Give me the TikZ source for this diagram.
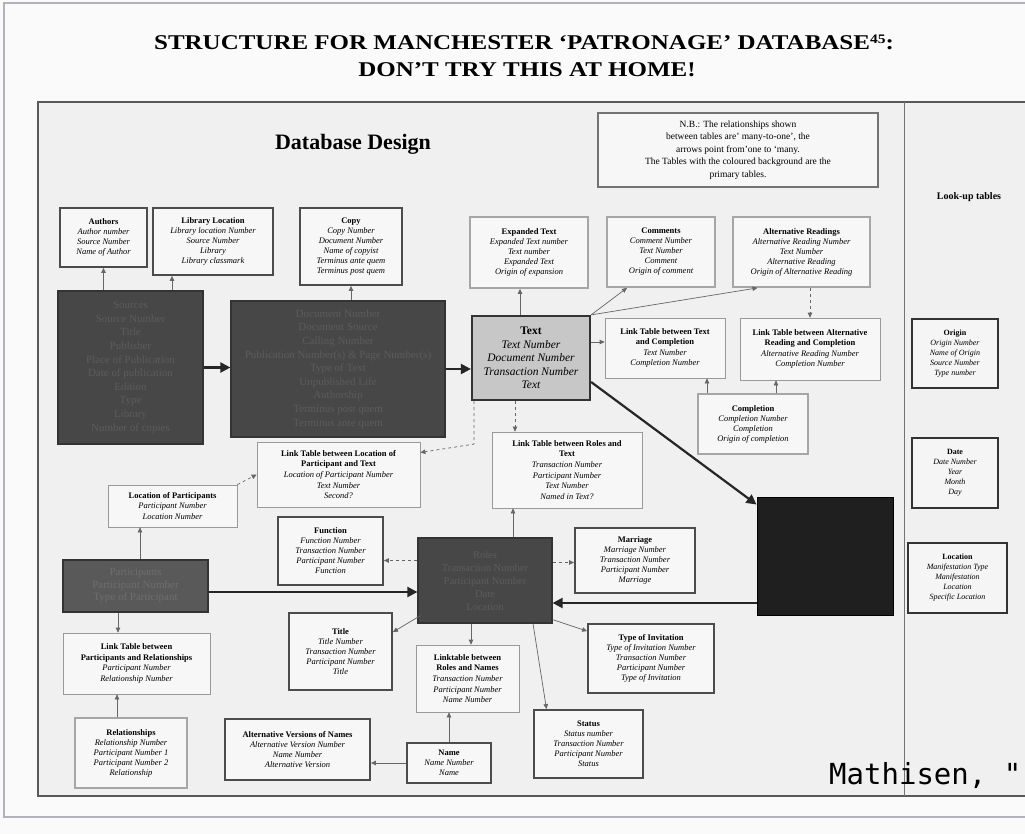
\documentclass[tikz,border=0pt]{standalone}
\usepackage{graphicx}
\usepackage{fontspec}
\setmainfont{Liberation Serif}
\newfontfamily\monofont{DejaVu Sans Mono}
\usetikzlibrary{arrows.meta}
\begin{document}
\begin{tikzpicture}[x=1pt,y=-1pt,
  every node/.style={inner sep=0pt, align=center},
  tbl/.style={draw=black!70, line width=1.8pt, fill=white!97!black, font=\fontsize{8.5}{10}\selectfont},
  ltbl/.style={draw=black!35, line width=1.8pt, fill=white!97!black, font=\fontsize{8.5}{10}\selectfont},
  lnk/.style={draw=black!40, line width=0.7pt, fill=white!97!black, font=\fontsize{8.5}{10.6}\selectfont},
  look/.style={draw=black!80, line width=1.8pt, fill=white!96!black, font=\fontsize{8}{10}\selectfont},
  prim/.style={draw=black!80, line width=1.2pt, fill=black!72, text=black!64, font=\fontsize{11}{13.6}\selectfont},
  con/.style={draw=black!60, line width=0.7pt, -{Triangle[width=4.5pt,length=5pt]}},
  dcon/.style={con, dashed},
  big/.style={draw=black!85, line width=2.2pt, -{Triangle[width=10pt,length=10pt]}},
]
\useasboundingbox (0,0) rectangle (1025,834);
\clip (0,0) rectangle (1025,834);
\fill[white!98!black] (0,0) rectangle (1025,834);
% outer frame
\draw[blue!15!black!30, line width=1.5pt] (1040,3) -- (4,3) -- (4,817) -- (1040,817);
% title
\node[font=\bfseries\fontsize{21}{21}\selectfont] (title1) at (524,42) {\scalebox{1.19}[1]{STRUCTURE FOR MANCHESTER ‘PATRONAGE’ DATABASE{\fontsize{13}{13}\selectfont\raisebox{6pt}{45}}:}};
\node[font=\bfseries\fontsize{21}{21}\selectfont] (title2) at (527,70) {\scalebox{1.19}[1]{DON’T TRY THIS AT HOME!}};
% inner frame
\filldraw[fill=black!6, draw=black!65, line width=2pt] (38,102) rectangle (1040,796);
\draw[black!55, line width=0.8pt] (904,102) -- (904,796);
\node[font=\bfseries\fontsize{22}{22}\selectfont] (dbd) at (353,144) {Database Design};
\node[draw=black!55, line width=1.6pt, fill=white!97!black, minimum width=280pt, minimum height=74pt, font=\fontsize{9.5}{12.5}\selectfont] (nb) at (738,150)
 {N.B.: The relationships shown\\ between tables are’ many-to-one’, the\\ arrows point from’one to ‘many.\\ The Tables with the coloured background are the\\ primary tables.};
\node[font=\bfseries\fontsize{10}{12}\selectfont] (lookup) at (969,197) {Look-up tables};

% top tables
\node[tbl, minimum width=87pt, minimum height=59pt] (authors) at (103.5,237.5)
 {\textbf{Authors}\\ \itshape Author number\\ \itshape Source Number\\ \itshape Name of Author};
\node[tbl, minimum width=120pt, minimum height=67pt] (lib) at (213,241.5)
 {\textbf{Library Location}\\ \itshape Library location Number\\ \itshape Source Number\\ \itshape Library\\ \itshape Library classmark};
\node[tbl, minimum width=102pt, minimum height=77pt] (copy) at (351,246.5)
 {\textbf{Copy}\\ \itshape Copy Number\\ \itshape Document Number\\ \itshape Name of copyist\\ \itshape Terminus ante quem\\ \itshape Terminus post quem};
\node[ltbl, minimum width=118pt, minimum height=71pt] (exp) at (529,252.5)
 {\textbf{Expanded Text}\\ \itshape Expanded Text number\\ \itshape Text number\\ \itshape Expanded Text\\ \itshape Origin of expansion};
\node[ltbl, minimum width=108pt, minimum height=70pt] (comments) at (661,252)
 {\textbf{Comments}\\ \itshape Comment Number\\ \itshape Text Number\\ \itshape Comment\\ \itshape Origin of comment};
\node[ltbl, minimum width=137pt, minimum height=70pt] (alt) at (801.5,252)
 {\textbf{Alternative Readings}\\ \itshape Alternative Reading Number\\ \itshape Text Number\\ \itshape Alternative Reading\\ \itshape Origin of Alternative Reading};

% primary tables
\node[prim, minimum width=145pt, minimum height=153pt] (sources) at (130.5,367.5)
 {Sources\\ Source Number\\ Title\\ Publisher\\ Place of Publication\\ Date of publication\\ Edition\\ Type\\ Library\\ Number of copies};
\node[prim, minimum width=214pt, minimum height=136pt] (document) at (338,369)
 {Document Number\\ Document Source\\ Calling Number\\ Publication Number(s) \& Page Number(s)\\ Type of Text\\ Unpublished Life\\ Authorship\\ Terminus post quem\\ Terminus ante quem};
\node[draw=black!80, line width=2.2pt, fill=black!22, minimum width=118pt, minimum height=84pt, font=\fontsize{11.5}{13.6}\selectfont] (text) at (531,358)
 {\textbf{Text}\\ \itshape Text Number\\ \itshape Document Number\\ \itshape Transaction Number\\ \itshape Text};
\node[lnk, minimum width=120pt, minimum height=60pt] (ltc) at (665,348)
 {\textbf{Link Table between Text}\\ \textbf{and Completion}\\ \itshape Text Number\\ \itshape Completion Number};
\node[lnk, minimum width=140pt, minimum height=62pt] (lar) at (810,349)
 {\textbf{Link Table between Alternative}\\ \textbf{Reading and Completion}\\ \itshape Alternative Reading Number\\ \itshape Completion Number};
\node[ltbl, minimum width=110pt, minimum height=60pt] (completion) at (753,424)
 {\textbf{Completion}\\ \itshape Completion Number\\ \itshape Completion\\ \itshape Origin of completion};

% look-up tables
\node[look, minimum width=86pt, minimum height=69pt] (origin) at (955,353.5)
 {\textbf{Origin}\\ \itshape Origin Number\\ \itshape Name of Origin\\ \itshape Source Number\\ \itshape Type number};
\node[look, minimum width=86pt, minimum height=70pt] (date) at (955,473)
 {\textbf{Date}\\ \itshape Date Number\\ \itshape Year\\ \itshape Month\\ \itshape Day};
\node[look, minimum width=99pt, minimum height=70pt] (location) at (957.5,578)
 {\textbf{Location}\\ \itshape Manifestation Type\\ \itshape Manifestation\\ \itshape Location\\ \itshape Specific Location};

% middle
\node[lnk, minimum width=129pt, minimum height=42pt] (locp) at (172.5,506)
 {\textbf{Location of Participants}\\ \itshape Participant Number\\ \itshape Location Number};
\node[lnk, minimum width=163pt, minimum height=65pt] (llt) at (338.5,474.5)
 {\textbf{Link Table between Location of}\\ \textbf{Participant and Text}\\ \itshape Location of Participant Number\\ \itshape Text Number\\ \itshape Second?};
\node[lnk, minimum width=150pt, minimum height=76pt] (lrt) at (567,470)
 {\textbf{Link Table between Roles and}\\ \textbf{Text}\\ \itshape Transaction Number\\ \itshape Participant Number\\ \itshape Text Number\\ \itshape Named in Text?};
\node[tbl, minimum width=105pt, minimum height=68pt] (function) at (330.5,551)
 {\textbf{Function}\\ \itshape Function Number\\ \itshape Transaction Number\\ \itshape Participant Number\\ \itshape Function};
\node[prim, minimum width=145pt, minimum height=52pt, fill=black!65, text=black!57, font=\fontsize{11}{12.5}\selectfont] (participants) at (135.5,586)
 {Participants\\ Participant Number\\ Type of Participant};
\node[prim, minimum width=134pt, minimum height=85pt, font=\fontsize{10.5}{13}\selectfont] (roles) at (485,580.5)
 {Roles\\ Transaction Number\\ Participant Number\\ Date\\ Location};
\node[tbl, minimum width=120pt, minimum height=65pt] (marriage) at (635,560.5)
 {\textbf{Marriage}\\ \itshape Marriage Number\\ \itshape Transaction Number\\ \itshape Participant Number\\ \itshape Marriage};
\node[draw=black, line width=1pt, fill=black!88, minimum width=136pt, minimum height=118pt] (black) at (825,556) {};

% bottom
\node[tbl, minimum width=103pt, minimum height=77pt] (title) at (340.5,651.5)
 {\textbf{Title}\\ \itshape Title Number\\ \itshape Transaction Number\\ \itshape Participant Number\\ \itshape Title};
\node[lnk, minimum width=147pt, minimum height=61pt] (lpr) at (136.5,663.5)
 {\textbf{Link Table between}\\ \textbf{Participants and Relationships}\\ \itshape Participant Number\\ \itshape Relationship Number};
\node[lnk, minimum width=103pt, minimum height=67pt] (lrn) at (467.5,678.5)
 {\textbf{Linktable between}\\ \textbf{Roles and Names}\\ \itshape Transaction Number\\ \itshape Participant Number\\ \itshape Name Number};
\node[tbl, minimum width=126pt, minimum height=69pt] (typeinv) at (651,658.5)
 {\textbf{Type of Invitation}\\ \itshape Type of Invitation Number\\ \itshape Transaction Number\\ \itshape Participant Number\\ \itshape Type of Invitation};
\node[tbl, minimum width=109pt, minimum height=68pt] (status) at (588.5,744)
 {\textbf{Status}\\ \itshape Status number\\ \itshape Transaction Number\\ \itshape Participant Number\\ \itshape Status};
\node[tbl, minimum width=84pt, minimum height=40pt] (name) at (449,763)
 {\textbf{Name}\\ \itshape Name Number\\ \itshape Name};
\node[tbl, minimum width=145pt, minimum height=61pt] (altv) at (297.5,749.5)
 {\textbf{Alternative Versions of Names}\\ \itshape Alternative Version Number\\ \itshape Name Number\\ \itshape Alternative Version};
\node[ltbl, minimum width=112pt, minimum height=70pt] (rel) at (131,753)
 {\textbf{Relationships}\\ \itshape Relationship Number\\ \itshape Participant Number 1\\ \itshape Participant Number 2\\ \itshape Relationship};

\node[anchor=base west, font=\monofont\fontsize{29}{29}\selectfont] (math) at (829,784) {Mathisen, "};

% connectors
\draw[con] (sources.north -| authors.south) -- (authors.south);
\coordinate (l1) at ([xshift=-41pt]lib.south);
\draw[con] (l1 |- sources.north) -- (l1);
\draw[con] (document.north -| copy.south) -- (copy.south);
\draw[big] (sources.east) -- (document.west |- sources.east);
\draw[big] (document.east) -- (text.west |- document.east);
\coordinate (e1) at ([xshift=-11pt]text.north);
\draw[con] (e1) -- (e1 |- exp.south);
\draw[con] (text.north east) -- ([xshift=-34pt]comments.south);
\draw[con] (text.north east) -- ([xshift=-44pt]alt.south);
\coordinate (t1) at ([yshift=6pt]ltc.west);
\draw[con] (t1 -| text.east) -- (t1);
\draw[dcon] (alt.south -| lar.north) -- (lar.north);
\coordinate (c1) at ([xshift=-46pt]completion.north);
\draw[con] (c1) -- (c1 |- ltc.south);
\coordinate (c2) at ([xshift=23pt]completion.north);
\draw[con] (c2) -- (c2 |- lar.south);
\draw[big] ([yshift=-24pt]text.east) -- ([yshift=-8pt]black.north west);
\coordinate (d1) at ([xshift=3pt]text.south west);
\draw[dcon] (d1) -- ++(0,43) -- ([yshift=22pt]llt.east);
\draw[dcon] (locp.north east) -- (llt.west);
\coordinate (p1) at ([xshift=4.5pt]participants.north);
\draw[con] (p1) -- (p1 |- locp.south);
\coordinate (t2) at ([xshift=-16pt]text.south);
\draw[dcon] (t2) -- (t2 |- lrt.north);
\coordinate (r1) at ([xshift=28pt]roles.north);
\draw[con] (r1) -- (r1 |- lrt.south);
\coordinate (r2) at ([yshift=20pt]roles.west);
\draw[dcon] (r2) -- (r2 -| function.east);
\coordinate (r3) at ([yshift=18pt]roles.east);
\draw[dcon] (r3) -- (r3 -| marriage.west);
\coordinate (p2) at ([yshift=-6pt]participants.east);
\draw[big] (p2) -- (p2 -| roles.west);
\coordinate (b1) at ([yshift=-47pt]black.west);
\draw[big] (b1) -- (b1 -| roles.east);
\draw[con] ([yshift=4pt]roles.south east) -- ([yshift=-8pt]typeinv.north west);
\draw[con] ([xshift=3pt,yshift=8pt]roles.south west) -- ([yshift=-20pt]title.north east);
\coordinate (r4) at ([xshift=-14pt]roles.south);
\draw[con] (r4) -- (r4 |- lrn.north);
\draw[con] ([xshift=48pt]roles.south) -- ([xshift=-42pt]status.north);
\coordinate (p3) at ([xshift=-17.5pt]participants.south);
\draw[con] (p3) -- (p3 |- lpr.north);
\coordinate (q1) at ([xshift=-14pt]rel.north);
\draw[con] (q1) -- (q1 |- lpr.south);
\draw[con] (name.north) -- (name.north |- lrn.south);
\draw[con] (name.west) -- (name.west -| altv.east);
\end{tikzpicture}
\end{document}
